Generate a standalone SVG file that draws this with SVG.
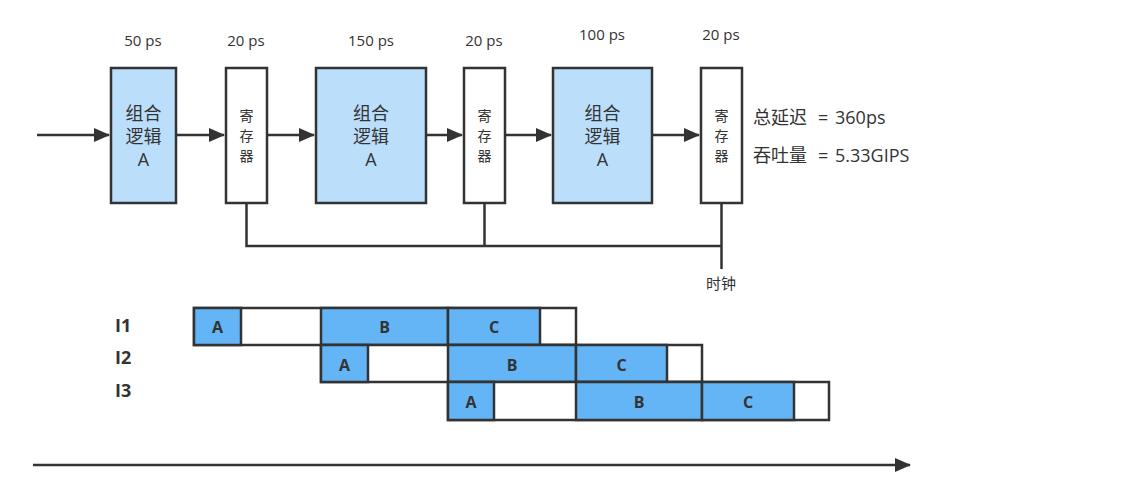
<svg xmlns="http://www.w3.org/2000/svg" width="1148" height="486" viewBox="0 0 1148 486">
<defs>
<style>
.t{font-family:"Open Sans","Noto Sans CJK SC","Liberation Sans",sans-serif;fill:#333}
.lab{font-size:15px;text-anchor:middle}
.comb{fill:#bbdefb;stroke:#333;stroke-width:2.5}
.reg{fill:#fff;stroke:#333;stroke-width:2.5}
.ct{font-size:18px;text-anchor:middle}
.rt{font-size:14px;text-anchor:middle}
.ln{stroke:#333;stroke-width:2.5;fill:none}
.bar{fill:#64b5f6;stroke:#333;stroke-width:2.5}
.emp{fill:#fff;stroke:#333;stroke-width:2.5}
.bt{font-family:"Open Sans","Liberation Sans",sans-serif;font-size:16px;font-weight:bold;fill:#333;text-anchor:middle}
.it{font-family:"Open Sans","Liberation Sans",sans-serif;font-size:18px;font-weight:bold;fill:#333}
</style>
<marker id="ah2" markerWidth="16" markerHeight="14" refX="15" refY="7" orient="auto" markerUnits="userSpaceOnUse" viewBox="0 0 16 14">
<path d="M0,0 L16,7 L0,14 Z" fill="#333"/>
</marker>
</defs>
<rect width="1148" height="486" fill="#fff"/>

<g id="connectors">
<line class="ln" x1="37" y1="135" x2="109" y2="135" marker-end="url(#ah2)"/>
<line class="ln" x1="177" y1="135" x2="224" y2="135" marker-end="url(#ah2)"/>
<line class="ln" x1="267" y1="135" x2="314" y2="135" marker-end="url(#ah2)"/>
<line class="ln" x1="427" y1="135" x2="462" y2="135" marker-end="url(#ah2)"/>
<line class="ln" x1="505" y1="135" x2="551" y2="135" marker-end="url(#ah2)"/>
<line class="ln" x1="652" y1="135" x2="699" y2="135" marker-end="url(#ah2)"/>
<path class="ln" d="M246.5,203 V246 H721.5 M484.5,203 V246 M721.5,203 V269"/>
<line class="ln" x1="33" y1="465" x2="910" y2="465" marker-end="url(#ah2)"/>
</g>

<g id="labels">
<text class="t lab" x="143" y="46">50 ps</text>
<text class="t lab" x="246" y="46">20 ps</text>
<text class="t lab" x="371" y="46">150 ps</text>
<text class="t lab" x="484" y="46">20 ps</text>
<text class="t lab" x="602" y="40">100 ps</text>
<text class="t lab" x="721" y="40">20 ps</text>
<text class="t lab" x="721" y="289" font-size="14">时钟</text>
<text class="t" y="124" font-size="18"><tspan x="753">总延迟</tspan><tspan x="818">=</tspan><tspan x="835">360ps</tspan></text>
<text class="t" y="162" font-size="18"><tspan x="753">吞吐量</tspan><tspan x="818">=</tspan><tspan x="835">5.33GIPS</tspan></text>
</g>

<g id="comb1">
<rect class="comb" x="111" y="68" width="65" height="135"/>
<text class="t ct" x="143.5" y="120">组合</text>
<text class="t ct" x="143.5" y="143">逻辑</text>
<text class="t ct" x="143.5" y="166">A</text>
</g>
<g id="reg1">
<rect class="reg" x="226" y="68" width="41" height="135"/>
<text class="t rt" x="246.5" y="121">寄</text>
<text class="t rt" x="246.5" y="141">存</text>
<text class="t rt" x="246.5" y="161">器</text>
</g>
<g id="comb2">
<rect class="comb" x="316" y="68" width="110" height="135"/>
<text class="t ct" x="371" y="120">组合</text>
<text class="t ct" x="371" y="143">逻辑</text>
<text class="t ct" x="371" y="166">A</text>
</g>
<g id="reg2">
<rect class="reg" x="464" y="68" width="41" height="135"/>
<text class="t rt" x="484.5" y="121">寄</text>
<text class="t rt" x="484.5" y="141">存</text>
<text class="t rt" x="484.5" y="161">器</text>
</g>
<g id="comb3">
<rect class="comb" x="553" y="68" width="99" height="135"/>
<text class="t ct" x="602.5" y="120">组合</text>
<text class="t ct" x="602.5" y="143">逻辑</text>
<text class="t ct" x="602.5" y="166">A</text>
</g>
<g id="reg3">
<rect class="reg" x="701" y="68" width="41" height="135"/>
<text class="t rt" x="721.5" y="121">寄</text>
<text class="t rt" x="721.5" y="141">存</text>
<text class="t rt" x="721.5" y="161">器</text>
</g>

<g id="timeline">
<text class="it" x="115" y="332">I1</text>
<text class="it" x="115" y="364">I2</text>
<text class="it" x="115" y="397">I3</text>

<rect class="emp" x="194" y="308" width="382" height="37"/>
<rect class="bar" x="194" y="308" width="47" height="37"/>
<rect class="bar" x="321" y="308" width="127" height="37"/>
<rect class="bar" x="448" y="308" width="92" height="37"/>
<text class="bt" x="217.5" y="333">A</text>
<text class="bt" x="384.5" y="333">B</text>
<text class="bt" x="494" y="333">C</text>

<rect class="emp" x="321" y="345" width="381" height="37"/>
<rect class="bar" x="321" y="345" width="47" height="37"/>
<rect class="bar" x="448" y="345" width="128" height="37"/>
<rect class="bar" x="576" y="345" width="91" height="37"/>
<text class="bt" x="344.5" y="371">A</text>
<text class="bt" x="512" y="371">B</text>
<text class="bt" x="621.5" y="371">C</text>

<rect class="emp" x="448" y="382" width="381" height="38"/>
<rect class="bar" x="448" y="382" width="46" height="38"/>
<rect class="bar" x="576" y="382" width="126" height="38"/>
<rect class="bar" x="702" y="382" width="92" height="38"/>
<text class="bt" x="471" y="408">A</text>
<text class="bt" x="639" y="408">B</text>
<text class="bt" x="748" y="408">C</text>
</g>
</svg>
